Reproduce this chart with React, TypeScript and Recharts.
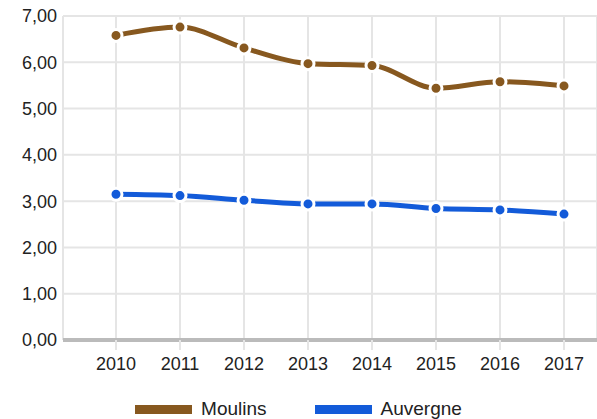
import React from 'react';
import { LineChart, Line, XAxis, YAxis, CartesianGrid, Legend } from 'recharts';

const years = ['2010', '2011', '2012', '2013', '2014', '2015', '2016', '2017'];
const moulins = [6.58, 6.76, 6.31, 5.97, 5.93, 5.44, 5.58, 5.49];
const auvergne = [3.15, 3.12, 3.02, 2.94, 2.94, 2.84, 2.81, 2.72];
const yTicks = [0, 1, 2, 3, 4, 5, 6, 7];

const series = [
  { key: 'Moulins', color: '#87581f' },
  { key: 'Auvergne', color: '#135bd9' },
];

const data = years.map((year, i) => ({
  year,
  Moulins: moulins[i],
  Auvergne: auvergne[i],
}));

const font = '"Liberation Sans", Arial, sans-serif';

function LegendContent() {
  return (
    <div style={{ display: 'flex', justifyContent: 'center', alignItems: 'center', paddingTop: 18, fontFamily: font, fontSize: 19, color: '#222' }}>
      {series.map((s, i) => (
        <div key={s.key} style={{ display: 'flex', alignItems: 'center', marginLeft: i ? 48 : 0 }}>
          <div style={{ width: 57, height: 9, background: s.color, marginRight: 9 }} />
          <span>{s.key}</span>
        </div>
      ))}
    </div>
  );
}

function App() {
  const fmt = (v: number) => v.toFixed(2).replace('.', ',');
  return (
    <div style={{ position: 'absolute', left: 0, top: 0 }}>
      <LineChart width={597} height={419} data={data} margin={{ top: 16, right: 0, bottom: 0, left: 0 }}>
        <CartesianGrid stroke="#e5e5e5" strokeWidth={2} />
        <XAxis
          dataKey="year"
          type="category"
          padding={{ left: 53, right: 33 }}
          height={40}
          axisLine={{ stroke: '#bbbbbb', strokeWidth: 4 }}
          tickLine={{ stroke: '#e5e5e5', strokeWidth: 2 }}
          tickSize={10}
          tickMargin={7}
          tick={{ fill: '#222', fontSize: 18, fontFamily: font }}
          interval={0}
          scale="point"
        />
        <YAxis
          domain={[0, 7]}
          ticks={yTicks}
          width={63}
          axisLine={false}
          tickLine={false}
          tickSize={4}
          tickMargin={2}
          tickFormatter={fmt}
          tick={{ fill: '#222', fontSize: 18, fontFamily: font }}
        />
        <Legend verticalAlign="bottom" height={39} content={<LegendContent />} />
        {series.map((s) => (
          <Line
            key={s.key}
            dataKey={s.key}
            type="monotone"
            stroke={s.color}
            strokeWidth={5}
            dot={{ r: 6, fill: s.color, stroke: '#fff', strokeWidth: 3 }}
            activeDot={false}
            isAnimationActive={false}
          />
        ))}
      </LineChart>
    </div>
  );
}

export default App;
